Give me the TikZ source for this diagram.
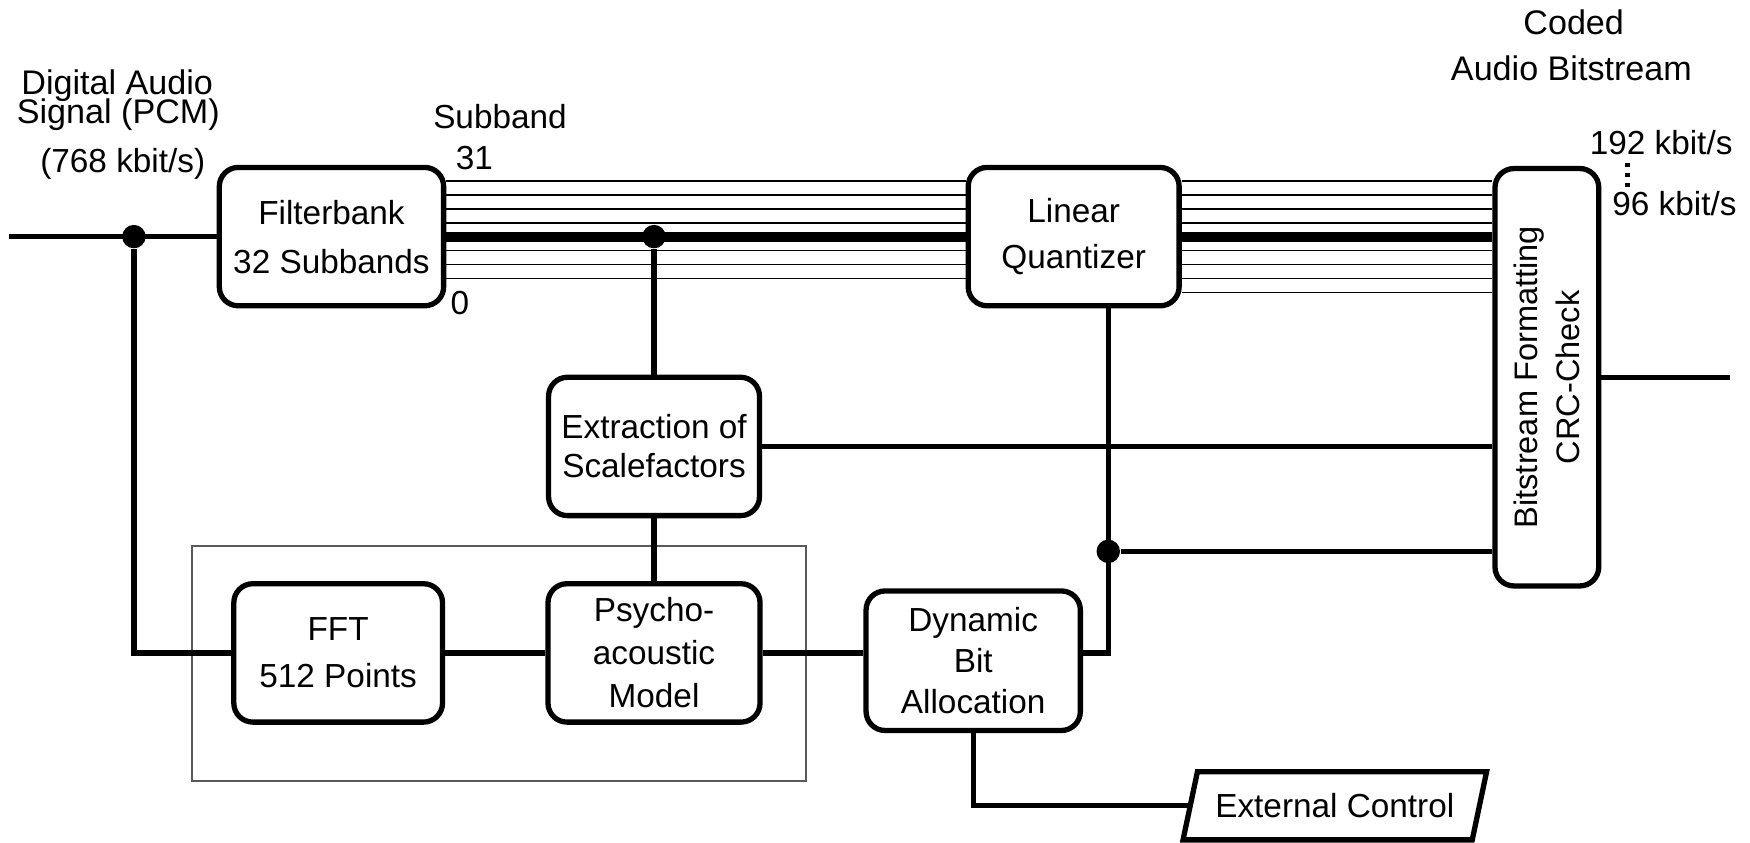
\documentclass[tikz,border=0pt]{standalone}
\usepackage{fontspec}
\setmainfont{Liberation Sans}
\usetikzlibrary{shapes.geometric,calc}
\newcommand\boxf{\fontsize{8.5}{10}\selectfont}
\newcommand\headf{\fontsize{8.7}{10}\selectfont}
\begin{document}
\begin{tikzpicture}[x=0.1mm,y=-0.1mm,
  blk/.style={draw,line width=1.35pt,rounded corners=1.7mm,align=center,
              inner sep=0pt,font=\boxf,fill=white},
  wire/.style={line width=1.35pt},
  bus/.style={line width=2.6pt},
  subline/.style={line width=0.45pt},
  junction/.style={circle,fill,inner sep=0pt,minimum size=2.1mm},
  hd/.style={inner sep=0pt,anchor=base,font=\headf},
  lb/.style={inner sep=0pt,anchor=base,font=\boxf}]
\useasboundingbox (0,0) rectangle (1568,755);

% processing blocks
\node[blk,minimum width=20.1mm,minimum height=12.4mm] (fb) at (297,212)
  {Filterbank\\[2.5pt]32 Subbands};
\node[blk,minimum width=18.9mm,minimum height=12.4mm] (lq) at (962,212)
  {Linear\\[1.7pt]Quantizer};
\node[blk,rotate=90,minimum width=37.4mm,minimum height=9.3mm,
      font=\fontsize{8.3}{10.5}\selectfont] (bf) at (1386,338)
  {Bitstream Formatting\\CRC-Check};
\node[blk,minimum width=18.9mm,minimum height=12.4mm] (ex) at (586,400)
  {Extraction of\\Scalefactors};
\node[blk,minimum width=18.7mm,minimum height=12.4mm] (fft) at (303,585)
  {FFT\\[2pt]512 Points};
\node[blk,minimum width=19.0mm,minimum height=12.4mm] (pm) at (586,585)
  {Psycho-\\[1pt]acoustic\\[1pt]Model};
\node[blk,minimum width=19.2mm,minimum height=12.5mm] (dba) at (872,592)
  {Dynamic\\[0.5pt]Bit\\[0.5pt]Allocation};
\node[draw,trapezium,trapezium left angle=63,trapezium right angle=117,
      trapezium stretches,minimum width=27.3mm,minimum height=6.1mm,
      inner sep=0pt,line width=1.35pt,font=\boxf] (ext) at (1196,722)
  {External Control};

% grouping frame around the psychoacoustic part
\draw[gray!70!black,line width=0.4pt] (172,489) rectangle (722,700);

% connection points
\coordinate (in) at (8,212);
\coordinate (out) at (1550,338);
\node[junction] (j1) at (120,212) {};
\node[junction] (j2) at (586,212) {};
\coordinate (q) at (993,585);
\node[junction] (j3) at (993,494) {};

% subband lines
\foreach \d in {-50,-37.5,-25,-12.5,12.5,25,37.5}
  \draw[subline] ($(fb.east)+(0,\d)$) -- ($(lq.west)+(0,\d)$);
\foreach \d in {-50,-37.5,-25,-12.5,12.5,25,37.5,50}
  \draw[subline] ($(lq.east)+(0,\d)$) -- ($(lq.east -| bf.north)+(0,\d)$);
\draw[bus] (fb.east) -- (lq.west);
\draw[bus] (lq.east) -- (lq.east -| bf.north);

% signal wires
\draw[wire] (in) -- (fb.west);
\draw[wire] (j1) |- (fft.west);
\draw[wire] (j2) -- (ex.north);
\draw[wire] (ex.south) -- (pm.north);
\draw[wire] (fft.east) -- (pm.west);
\draw[wire] (pm.east) -- (pm.east -| dba.west);
\draw[wire] (pm.east -| dba.east) -- (q) -- (q |- lq.south);
\draw[wire] (ex.east) -- (ex.east -| bf.north);
\draw[wire] (j3) -- (j3 -| bf.north);
\draw[wire] (bf.south) -- (out);
\draw[wire] (dba.south) |- (ext.west);

% labels
\node[hd] (t1) at (105,85) {Digital Audio};
\node[hd] (t2) at (106,111) {Signal (PCM)};
\node[lb] (t3) at (110,155) {(768 kbit/s)};
\node[lb] (t4) at (448,115) {Subband};
\node[lb] (t5) at (425,152) {31};
\node[lb] (t6) at (412,282) {0};
\node[hd] (t7) at (1410,31) {Coded};
\node[hd] (t8) at (1408,72) {Audio Bitstream};
\node[lb,anchor=base east] (t9) at (1553,138) {192 kbit/s};
\node[lb,anchor=base west] (t10) at (1444,193) {96 kbit/s};
\draw[line width=1.3pt,dash pattern=on 1.1pt off 1.4pt] (1458,146) -- (1458,170);
\end{tikzpicture}
\end{document}
